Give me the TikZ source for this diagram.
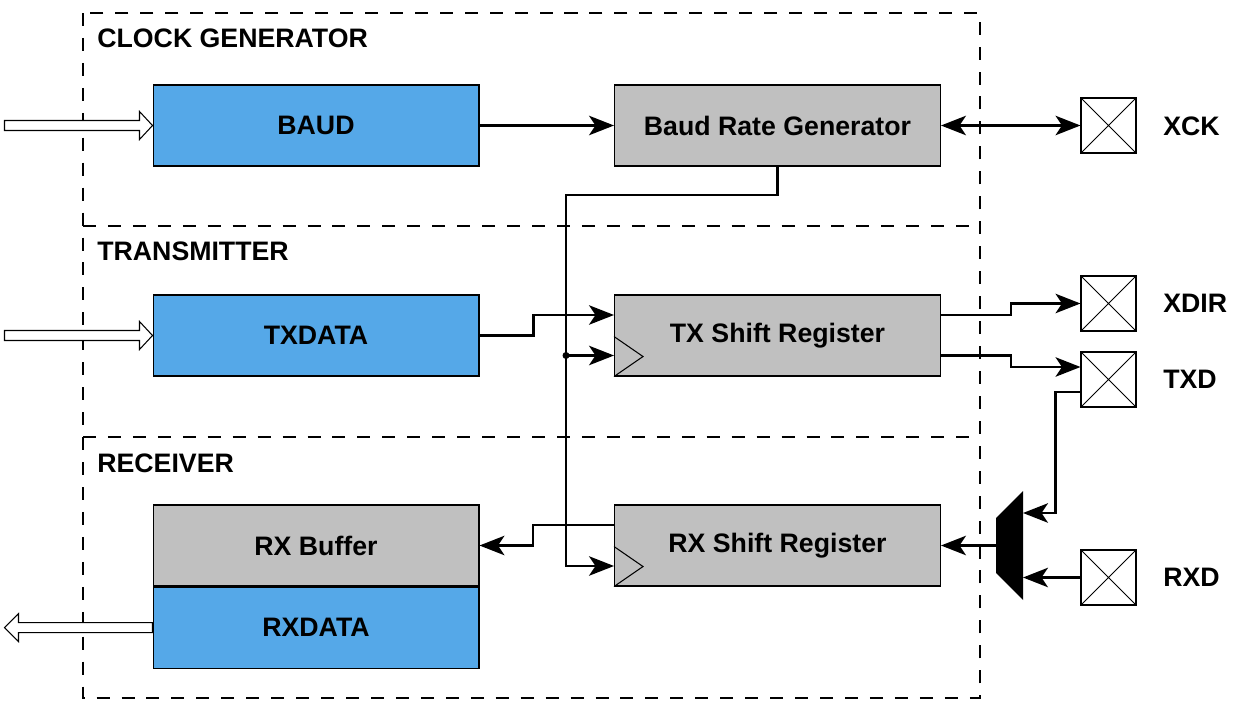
\documentclass[tikz,border=0pt]{standalone}
\usepackage{fontspec}
\setmainfont{Liberation Sans}
\usetikzlibrary{arrows.meta,calc}
\definecolor{regblue}{RGB}{85,168,232}
\definecolor{reggray}{RGB}{192,192,192}
\tikzset{
  blk/.style={draw, line width=0.6pt, minimum width=6.52cm, minimum height=1.62cm,
              font=\fontsize{15.2}{18}\selectfont\bfseries, inner sep=0pt},
  bluereg/.style={blk, fill=regblue},
  grayreg/.style={blk, fill=reggray},
  pin/.style={draw, line width=0.6pt, minimum size=1.1cm, inner sep=0pt,
              path picture={\draw[line width=0.5pt]
                (path picture bounding box.north west) -- (path picture bounding box.south east)
                (path picture bounding box.south west) -- (path picture bounding box.north east);}},
  pinname/.style={anchor=west, font=\fontsize{15.2}{18}\selectfont\bfseries, inner sep=0pt},
  secname/.style={anchor=west, font=\fontsize{15.2}{18}\selectfont\bfseries, inner sep=0pt},
  grpline/.style={line width=1.1pt, dash pattern=on 7.4pt off 6.8pt},
  wire/.style={line width=1.2pt},
  tip/.tip={Stealth[length=5mm, width=3.9mm, inset=1.3mm]},
  flow/.style={wire, -tip},
  bus/.style={draw, fill=white, line width=0.6pt},
}

\begin{document}
\begin{tikzpicture}[x=0.02cm, y=-0.02cm]
\useasboundingbox (0,0) rectangle (1244,720);
% groups
\draw[grpline] (83,13) rectangle (980,698);
\draw[grpline] (83,226) -- (980,226);
\draw[grpline] (83,437) -- (980,437);
\node[secname] (clkname) at (97,38) {CLOCK GENERATOR};
\node[secname] (txname) at (97,251) {TRANSMITTER};
\node[secname] (rxname) at (97,463) {RECEIVER};
% registers
\node[bluereg] (baud) at (316,125.5) {BAUD};
\node[grayreg] (brg) at (777.5,125.5) {Baud Rate Generator};
\node[bluereg] (txdata) at (316,335.5) {TXDATA};
\node[grayreg] (txsr) at (777.5,335.5) {TX Shift Register};
\node[grayreg] (rxbuf) at (316,545.5) {RX Buffer};
\node[bluereg, anchor=north] (rxdata) at (rxbuf.south) {RXDATA};
\node[grayreg] (rxsr) at (777.5,545.5) {RX Shift Register};
\draw[line width=0.6pt] ($(txsr.south west)+(0,-40)$) -- ++(29,20) -- (txsr.south west);
\draw[line width=0.6pt] ($(rxsr.south west)+(0,-40)$) -- ++(29,20) -- (rxsr.south west);
% pins
\node[pin] (xck) at (1108.5,125.5) {};
\node[pin] (xdir) at (1108.5,303.5) {};
\node[pin] (txd) at (1108.5,379.5) {};
\node[pin] (rxd) at (1108.5,577.5) {};
\node[pinname] (xckname) at (1163,126) {XCK};
\node[pinname] (xdirname) at (1163,303) {XDIR};
\node[pinname] (txdname) at (1163,379) {TXD};
\node[pinname] (rxdname) at (1163,577) {RXD};
% mux
\fill (996,518) -- (1023,491) -- (1023,600) -- (996,573) -- cycle;
\coordinate (muxa) at (1023,513);
\coordinate (muxb) at (1023,577.5);
\coordinate (muxo) at (996,545.5);
% bus arrows
\draw[bus] (baud.west) -- ++(-13,-14) -- ++(0,9) -- ++(-135,0) -- ++(0,10)
  -- ++(135,0) -- ++(0,9) -- cycle;
\draw[bus] (txdata.west) -- ++(-13,-14) -- ++(0,9) -- ++(-135,0) -- ++(0,10)
  -- ++(135,0) -- ++(0,9) -- cycle;
\draw[bus] ($(rxdata.west)+(-148,0)$) -- ++(14,-14) -- ++(0,9) -- ++(134,0) -- ++(0,10)
  -- ++(-134,0) -- ++(0,9) -- cycle;
% connections
\coordinate (txclk) at ($(txsr.west)+(0,20)$);
\coordinate (rxclk) at ($(rxsr.west)+(0,20.5)$);
\draw[flow] (baud) -- (brg);
\draw[wire, tip-tip] (brg) -- (xck);
\draw[flow] (brg.south) -- ++(0,28.5) -| ($(rxclk)-(48,0)$) -- (rxclk);
\fill ($(txclk)-(48,0)$) circle (3.5);
\draw[flow] ($(txclk)-(48,0)$) -- (txclk);
\draw[flow] (txdata.east) -- ++(54,0) |- ($(txsr.west)+(0,-20.5)$);
\draw[flow] ($(txsr.east)+(0,-20.5)$) -- ++(70,0) |- (xdir.west);
\draw[flow] ($(txsr.east)+(0,20)$) -- ++(70,0) |- ($(txd.west)+(0,-12.5)$);
\draw[flow] ($(txd.west)+(0,12.5)$) -- ++(-25,0) |- (muxa);
\draw[flow] (rxd.west) -- (muxb);
\draw[flow] (muxo) -- (rxsr.east);
\draw[flow] ($(rxsr.west)+(0,-20.5)$) -- ++(-81,0) |- (rxbuf.east);
\end{tikzpicture}
\end{document}
